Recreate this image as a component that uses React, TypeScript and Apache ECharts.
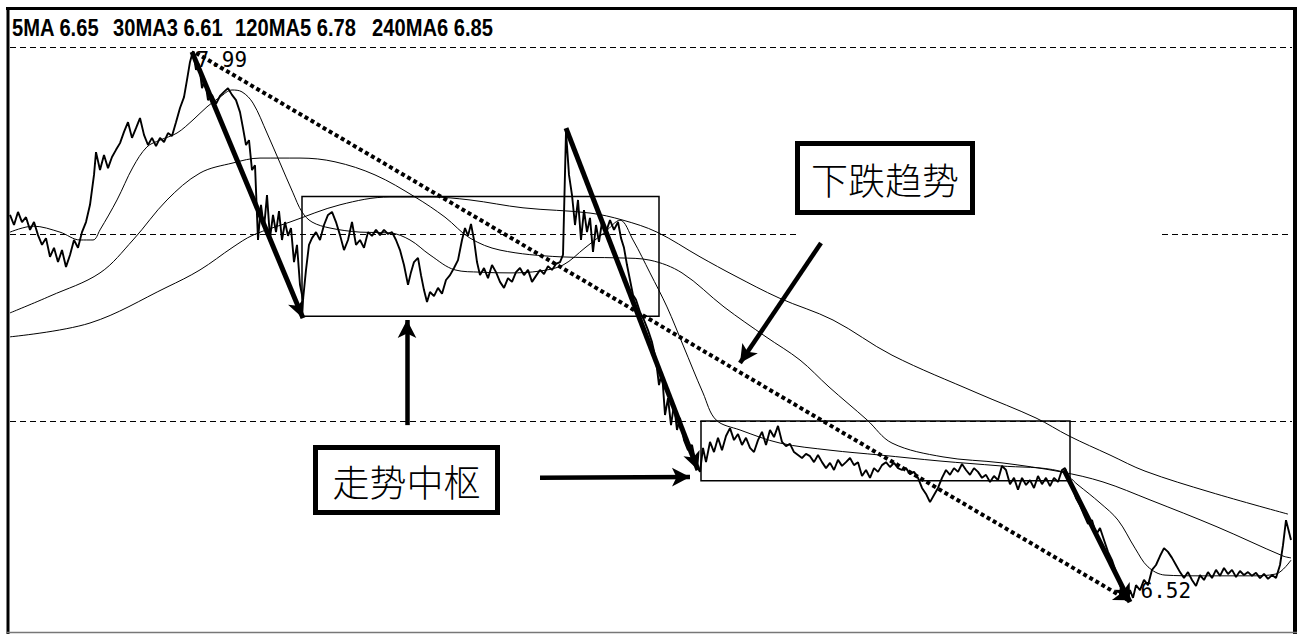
import React, { useEffect, useRef } from 'react';
import * as echarts from 'echarts';

// ---- header (moving average readouts) ----
const headerLabels = ['5MA 6.65', '30MA3 6.61', '120MA5 6.78', '240MA6 6.85'];

// ---- price path [day, price] ----
const price: [number, number][] = [
  [0, 7.551], [2, 7.524], [4, 7.559], [6, 7.532], [8, 7.545], [10, 7.511], [12, 7.532], [14, 7.497],
  [16, 7.471], [18, 7.489], [20, 7.439], [22, 7.463], [24, 7.425], [26, 7.457], [28, 7.412], [30, 7.444],
  [32, 7.484], [34, 7.463], [36, 7.505], [38, 7.532], [40, 7.578], [42, 7.658], [43, 7.719], [45, 7.671],
  [47, 7.711], [49, 7.676], [51, 7.706], [53, 7.725], [55, 7.743], [57, 7.773], [59, 7.799], [61, 7.757],
  [63, 7.783], [65, 7.81], [67, 7.765], [69, 7.738], [71, 7.757], [73, 7.735], [75, 7.757], [77, 7.746],
  [79, 7.77], [81, 7.762], [83, 7.799], [85, 7.837], [87, 7.866], [88.5, 7.912], [90, 7.96], [91.5, 7.989],
  [93, 7.939], [94.5, 7.955], [96, 7.89], [97.5, 7.912], [99, 7.858], [101, 7.872], [103, 7.848], [105, 7.869],
  [107, 7.88], [109, 7.89], [111, 7.872], [113, 7.858], [115, 7.826], [116.5, 7.783], [118, 7.738], [119.5, 7.751],
  [121, 7.671], [122.5, 7.684], [124, 7.484], [125.5, 7.578], [127, 7.516], [128.5, 7.604], [130, 7.489], [131.5, 7.551],
  [133, 7.505], [134.5, 7.561], [136, 7.484], [137.5, 7.532], [139, 7.495], [140.5, 7.516], [142, 7.425], [143.5, 7.471],
  [145, 7.364], [146.5, 7.324], [148, 7.404], [149.5, 7.471], [151, 7.489], [153, 7.505], [155, 7.484], [157, 7.524],
  [159, 7.551], [161, 7.559], [163, 7.532], [165, 7.497], [167, 7.457], [169, 7.484], [171, 7.532], [173, 7.471],
  [175, 7.484], [177, 7.463], [179, 7.505], [181, 7.495], [183, 7.511], [185, 7.497], [187, 7.511], [189, 7.5],
  [191, 7.505], [193, 7.484], [195, 7.457], [197, 7.417], [199, 7.364], [200.5, 7.398], [202, 7.425], [204, 7.436],
  [205.5, 7.39], [207, 7.35], [208.5, 7.318], [210, 7.345], [212, 7.334], [214, 7.356], [216, 7.34], [218, 7.377],
  [220, 7.39], [222, 7.409], [224, 7.43], [226, 7.484], [227.5, 7.516], [229, 7.495], [230.5, 7.527], [232, 7.484],
  [233.5, 7.425], [235, 7.39], [237, 7.409], [239, 7.382], [241, 7.417], [243, 7.398], [245, 7.372], [247, 7.356],
  [249, 7.382], [251, 7.372], [253, 7.398], [255, 7.409], [257, 7.39], [259, 7.404], [261, 7.372], [263, 7.388],
  [265, 7.404], [267, 7.393], [269, 7.414], [271, 7.404], [273, 7.42], [275, 7.425], [276.5, 7.444], [278, 7.773],
  [279.5, 7.658], [281, 7.604], [282.5, 7.524], [284, 7.591], [285.5, 7.484], [287, 7.564], [288.5, 7.505], [290, 7.543],
  [291.5, 7.452], [293, 7.524], [294.5, 7.479], [296, 7.532], [298, 7.505], [300, 7.537], [302, 7.511], [304, 7.532],
  [305.5, 7.489], [307, 7.463], [308.5, 7.417], [310, 7.377], [311.5, 7.337], [313, 7.324], [315, 7.291], [317, 7.27],
  [319, 7.243], [321, 7.211], [323, 7.163], [324.5, 7.096], [326, 7.131], [327.5, 7.016], [329, 7.061], [330.5, 6.989],
  [332, 7.043], [333.5, 6.976], [335, 7.008], [337, 6.949], [339, 6.922], [341, 6.936], [343, 6.882], [345, 6.864],
  [346.5, 6.928], [348, 6.89], [350, 6.944], [352, 6.917], [354, 6.955], [356, 6.922], [358, 6.96], [360, 6.981],
  [362, 6.949], [364, 6.965], [366, 6.936], [368, 6.955], [370, 6.928], [372, 6.917], [374, 6.949], [376, 6.971],
  [378, 6.936], [380, 6.976], [382, 6.957], [384, 6.987], [386, 6.944], [388, 6.933], [390, 6.939], [392, 6.917],
  [394, 6.909], [396, 6.901], [398, 6.912], [400, 6.906], [402, 6.89], [404, 6.909], [406, 6.89], [408, 6.874],
  [410, 6.888], [412, 6.869], [414, 6.896], [416, 6.88], [418, 6.89], [420, 6.901], [422, 6.882], [424, 6.89],
  [426, 6.853], [428, 6.869], [430, 6.848], [432, 6.874], [434, 6.864], [436, 6.882], [438, 6.89], [440, 6.877],
  [442, 6.888], [444, 6.874], [446, 6.869], [448, 6.874], [450, 6.858], [452, 6.864], [454, 6.848], [456, 6.821],
  [458, 6.805], [460, 6.783], [462, 6.802], [464, 6.821], [466, 6.848], [468, 6.869], [470, 6.856], [472, 6.874],
  [474, 6.864], [476, 6.885], [478, 6.869], [480, 6.856], [482, 6.874], [484, 6.864], [486, 6.848], [488, 6.856],
  [490, 6.837], [492, 6.853], [494, 6.842], [496, 6.88], [498, 6.869], [500, 6.831], [502, 6.848], [504, 6.816],
  [506, 6.848], [508, 6.829], [510, 6.842], [512, 6.821], [514, 6.853], [516, 6.831], [518, 6.848], [520, 6.826],
  [522, 6.848], [524, 6.837], [526, 6.869], [527.5, 6.874], [529, 6.853], [531, 6.826], [533, 6.794], [535, 6.775],
  [537, 6.749], [539, 6.725], [541, 6.735], [543, 6.695], [545, 6.714], [547, 6.682], [549, 6.65], [551, 6.628],
  [553, 6.596], [555, 6.561], [557, 6.535], [558.5, 6.521], [560, 6.548], [561.5, 6.527], [563, 6.561], [565, 6.548],
  [567, 6.575], [569, 6.561], [571, 6.602], [573, 6.615], [575, 6.639], [577, 6.66], [579, 6.65], [581, 6.634],
  [583, 6.615], [585, 6.596], [587, 6.58], [589, 6.596], [591, 6.575], [593, 6.559], [595, 6.588], [597, 6.575],
  [599, 6.596], [601, 6.58], [603, 6.602], [605, 6.586], [607, 6.607], [609, 6.591], [611, 6.602], [613, 6.583],
  [615, 6.599], [617, 6.588], [619, 6.596], [621, 6.586], [623, 6.594], [625, 6.58], [627, 6.591], [629, 6.578],
  [631, 6.588], [633, 6.58], [635, 6.615], [636.5, 6.668], [638, 6.735], [639.5, 6.703], [640.5, 6.682],
];

// ---- moving averages [day, price] ----
const ma30: [number, number][] = [
  [0, 7.505], [11.5, 7.521], [25, 7.505], [35, 7.484], [41.5, 7.484], [45, 7.511], [53.5, 7.591], [61.5, 7.679],
  [68.5, 7.733], [75, 7.751], [83.5, 7.77], [91.5, 7.805], [98.5, 7.84], [105, 7.866], [111, 7.885], [116, 7.88],
  [121.5, 7.85], [128.5, 7.77], [135, 7.69], [141.5, 7.61], [146, 7.559], [151, 7.532], [160, 7.516], [175, 7.505],
  [190, 7.503], [200, 7.484], [210, 7.444], [222.5, 7.404], [235, 7.398], [250, 7.396], [265, 7.401], [276.5, 7.417],
  [287.5, 7.463], [297.5, 7.505], [305, 7.537], [311.5, 7.484], [320, 7.396], [328.5, 7.305], [336.5, 7.203],
  [346.5, 7.075], [353, 7.003], [365, 6.976], [385, 6.941], [410, 6.922], [435, 6.909], [465, 6.893], [495, 6.88],
  [525, 6.866], [534, 6.829], [545, 6.781], [554, 6.735], [562.5, 6.66], [569, 6.61], [577.5, 6.588], [595, 6.586],
  [620, 6.586], [633, 6.591], [640.5, 6.628],
];
const ma120: [number, number][] = [
  [0, 7.289], [20, 7.334], [45, 7.396], [61.5, 7.484], [78.5, 7.591], [95, 7.663], [111.5, 7.69], [125, 7.703],
  [145, 7.703], [162.5, 7.693], [182.5, 7.658], [202.5, 7.599], [217.5, 7.545], [230, 7.489], [245, 7.457],
  [275, 7.439], [305, 7.436], [320, 7.43], [336, 7.396], [357, 7.305], [378, 7.225], [395, 7.163], [409.5, 7.091],
  [428.5, 7.003], [441, 6.941], [466.5, 6.904], [496, 6.888], [525.5, 6.864], [546.5, 6.837], [570, 6.789],
  [603.5, 6.717], [636.5, 6.639], [640.5, 6.634],
];
const ma240: [number, number][] = [
  [0, 7.225], [40, 7.262], [78.5, 7.358], [95, 7.404], [111.5, 7.465], [121.5, 7.497], [140, 7.532], [165, 7.578],
  [190, 7.599], [210, 7.599], [230, 7.591], [256.5, 7.57], [290, 7.556], [306.5, 7.537], [323.5, 7.505],
  [345, 7.439], [362.5, 7.388], [384.5, 7.329], [411.5, 7.27], [441, 7.176], [483.5, 7.075], [513, 7.008],
  [529.5, 6.96], [550, 6.909], [567.5, 6.866], [600, 6.81], [639, 6.751],
];

// ---- reference levels (dashed) ----
const refLevels = [
  { value: 8.0, spans: [[0, 641]] },
  { value: 7.5, spans: [[0, 395], [576, 641]] },
  { value: 7.0, spans: [[0, 641]] },
];

// ---- pivot zones (走势中枢 boxes) ----
const pivotZones = [
  { from: 146, to: 324.5, high: 7.6, low: 7.28 },
  { from: 345.5, to: 530, high: 7.0, low: 6.84 },
];

// ---- thrust strokes (thick arrows along the down legs) ----
const thrusts = [
  { from: [91, 7.987], to: [146.5, 7.275] },
  { from: [278, 7.783], to: [344, 6.869] },
  { from: [527, 6.869], to: [560, 6.516] },
];
// ---- dotted down-trend line ----
const trendLine = { from: [93, 7.984], to: [559, 6.521] };
// ---- pointer arrows for the captions ----
const pointers = [
  { from: [198.5, 6.989], to: [198.5, 7.27] },
  { from: [265, 6.848], to: [340, 6.85] },
  { from: [405.5, 7.476], to: [365, 7.155] },
];

const captions = ['下跌趋势', '走势中枢'];

export default function App() {
  const ref = useRef<HTMLDivElement>(null);
  useEffect(() => {
    const chart = echarts.init(ref.current!, null, { renderer: 'svg' });

    const markLineData: any[] = [];
    refLevels.forEach((lvl) => {
      lvl.spans.forEach(([a, b]) => {
        markLineData.push([
          { coord: [a, lvl.value], symbol: 'none', lineStyle: { color: '#000', width: 1, type: [6, 4] } },
          { coord: [b, lvl.value], symbol: 'none' },
        ]);
      });
    });
    markLineData.push([
      { coord: trendLine.from, symbol: 'none', lineStyle: { color: '#000', width: 4, type: [4, 3] } },
      { coord: trendLine.to, symbol: 'arrow', symbolSize: [12, 14] },
    ]);
    thrusts.forEach((t) => {
      markLineData.push([
        { coord: t.from, symbol: 'none', lineStyle: { color: '#000', width: 5, type: 'solid' } },
        { coord: t.to, symbol: 'arrow', symbolSize: [13, 18] },
      ]);
    });
    pointers.forEach((p) => {
      markLineData.push([
        { coord: p.from, symbol: 'none', lineStyle: { color: '#000', width: 4.5, type: 'solid' } },
        { coord: p.to, symbol: 'arrow', symbolSize: [14, 18] },
      ]);
    });

    const headerX = [12, 113, 235, 372];
    const hdrFont = "'Liberation Sans', Arial, sans-serif";

    const captionBox = (text: string, x: number, y: number, w: number, h: number) => ({
      type: 'group',
      x,
      y,
      z: 100,
      children: [
        { type: 'rect', shape: { x: 0, y: 0, width: w, height: h }, style: { fill: '#fff', stroke: '#000', lineWidth: 5 } },
        {
          type: 'text',
          x: w / 2,
          y: h / 2 + 1,
          style: {
            text,
            fill: '#000',
            fontSize: 37,
            fontFamily: "'Noto Sans CJK SC', sans-serif",
            fontWeight: 300,
            textAlign: 'center',
            textVerticalAlign: 'middle',
          },
        },
      ],
    });

    const option: any = {
      animation: false,
      backgroundColor: '#fff',
      grid: { left: 10, top: 47, width: 1282, height: 583.44 },
      xAxis: { type: 'value', min: 0, max: 641, show: false },
      yAxis: { type: 'value', min: 6.44, max: 8.0, show: false },
      series: [
        {
          type: 'line', data: ma240, showSymbol: false, smooth: 0.35,
          lineStyle: { color: '#000', width: 1 }, z: 2, silent: true,
        },
        {
          type: 'line', data: ma120, showSymbol: false, smooth: 0.35,
          lineStyle: { color: '#000', width: 1 }, z: 2, silent: true,
        },
        {
          type: 'line', data: ma30, showSymbol: false, smooth: 0.35,
          lineStyle: { color: '#000', width: 1 }, z: 2, silent: true,
        },
        {
          type: 'line', data: price, showSymbol: false,
          lineStyle: { color: '#000', width: 1.9 }, z: 3, silent: true,
          markArea: {
            silent: true,
            itemStyle: { color: 'rgba(0,0,0,0)', borderColor: '#000', borderWidth: 1.5 },
            data: pivotZones.map((zn) => [{ coord: [zn.from, zn.high] }, { coord: [zn.to, zn.low] }]),
          },
          markLine: {
            silent: true,
            animation: false,
            label: { show: false },
            data: markLineData,
          },
          markPoint: {
            silent: true,
            symbol: 'circle',
            symbolSize: 1,
            itemStyle: { color: 'rgba(0,0,0,0)' },
            label: {
              show: true,
              color: '#000',
              fontSize: 21,
              fontFamily: "'DejaVu Sans Mono', monospace",
              formatter: (p: any) => Number(p.value).toFixed(2),
            },
            data: [
              { type: 'max', valueDim: 'y', label: { position: 'right', distance: 3, offset: [0, 9] } },
              { type: 'min', valueDim: 'y', label: { position: 'right', distance: 3, offset: [10, -9] } },
            ],
          },
        },
      ],
      graphic: [
        ...headerLabels.map((t, i) => ({
          type: 'text',
          x: headerX[i],
          y: 28,
          z: 100,
          scaleX: 0.84,
          style: { text: t, fill: '#000', fontSize: 24, fontWeight: 'bold', fontFamily: hdrFont, textVerticalAlign: 'middle' },
        })),
        captionBox(captions[0], 797.5, 143.5, 175, 69),
        captionBox(captions[1], 315.5, 447.5, 182, 65),
        { type: 'line', z: 100, shape: { x1: 6, y1: 8.5, x2: 1297, y2: 8.5 }, style: { stroke: '#000', lineWidth: 3 } },
        { type: 'line', z: 100, shape: { x1: 8, y1: 7, x2: 8, y2: 634 }, style: { stroke: '#000', lineWidth: 3 } },
        { type: 'line', z: 100, shape: { x1: 1295, y1: 7, x2: 1295, y2: 634 }, style: { stroke: '#000', lineWidth: 4 } },
        { type: 'line', z: 100, shape: { x1: 6, y1: 632.5, x2: 1297, y2: 632.5 }, style: { stroke: '#777', lineWidth: 1.5 } },
      ],
    };
    chart.setOption(option);
    return () => chart.dispose();
  }, []);
  return (
    <div
      ref={ref}
      style={{ position: 'fixed', left: 0, top: 0, width: 1299, height: 634, background: '#fff' }}
    />
  );
}
